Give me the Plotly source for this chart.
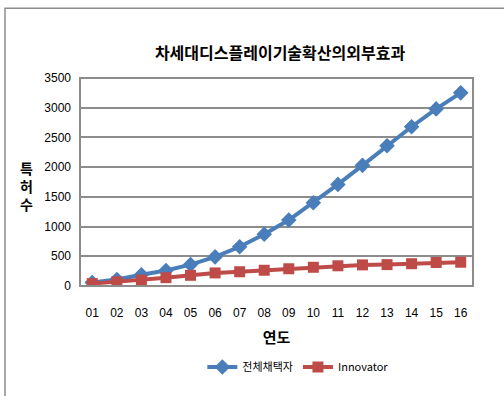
import plotly.graph_objects as go

# Data
years = ["01", "02", "03", "04", "05", "06", "07", "08",
         "09", "10", "11", "12", "13", "14", "15", "16"]
all_adopters = [60, 110, 190, 260, 360, 490, 660, 870,
                1110, 1400, 1710, 2030, 2360, 2680, 2980, 3250]
innovators = [40, 70, 100, 140, 180, 220, 240, 265,
              290, 315, 340, 355, 360, 375, 395, 400]

BLUE = "#4A7EBB"
RED = "#BE4B48"
FONT = "Liberation Sans, Noto Sans CJK KR, sans-serif"
KFONT = "Noto Sans CJK KR, sans-serif"

fig = go.Figure()
fig.add_trace(go.Scatter(
    x=years, y=all_adopters, name="전체채택자", mode="lines+markers",
    line=dict(color=BLUE, width=4),
    marker=dict(symbol="diamond", size=12, color=BLUE),
))
fig.add_trace(go.Scatter(
    x=years, y=innovators, name="Innovator", mode="lines+markers",
    line=dict(color=RED, width=4),
    marker=dict(symbol="square", size=11, color=RED),
))

fig.update_layout(
    width=504, height=396,
    margin=dict(l=80, r=31, t=78, b=110),
    paper_bgcolor="white", plot_bgcolor="white",
    font=dict(family=FONT, size=12, color="black"),
    title=dict(
        text="<b>차세대디스플레이기술확산의외부효과</b>",
        font=dict(family=KFONT, size=16, color="black"),
        x=280 / 504, xanchor="center", y=1 - 53 / 396, yanchor="middle",
    ),
    showlegend=True,
    legend=dict(
        orientation="h", x=280 / 504, xanchor="center",
        y=1 - 367 / 396, yanchor="middle", yref="container",
        font=dict(family=KFONT, size=11),
        itemwidth=30,
    ),
    xaxis=dict(
        type="category", range=[-0.5, 15.5], automargin=False,
        showgrid=False, showline=False, ticks="",
        tickfont=dict(size=12), ticklabelstandoff=18,
        title=dict(text="<b>연도</b>", font=dict(family=KFONT, size=15), standoff=13),
    ),
    yaxis=dict(
        range=[0, 3500], dtick=500, showgrid=True, automargin=False,
        gridcolor="#8C8C8C", gridwidth=1.5,
        zeroline=False, showline=False, ticks="",
        tickfont=dict(size=12), ticklabelstandoff=8,
    ),
    shapes=[
        # outer chart frame
        dict(type="rect", xref="paper", yref="paper",
             x0=-75 / 393, x1=1.2, y0=-0.6, y1=1 + 70 / 208.5,
             line=dict(color="#8C8C8C", width=1.5), layer="below"),
        # plot area frame
        dict(type="rect", xref="paper", yref="paper",
             x0=0, x1=1, y0=0, y1=1,
             line=dict(color="#8C8C8C", width=2)),
    ],
    annotations=[
        dict(text="<b>특<br>허<br>수</b>", xref="paper", yref="paper",
             x=-53 / 393, y=(286.5 - 186) / 208.5, xanchor="center", yanchor="middle",
             showarrow=False, font=dict(family=KFONT, size=14), align="center"),
    ],
)

fig.write_html("out.html")
